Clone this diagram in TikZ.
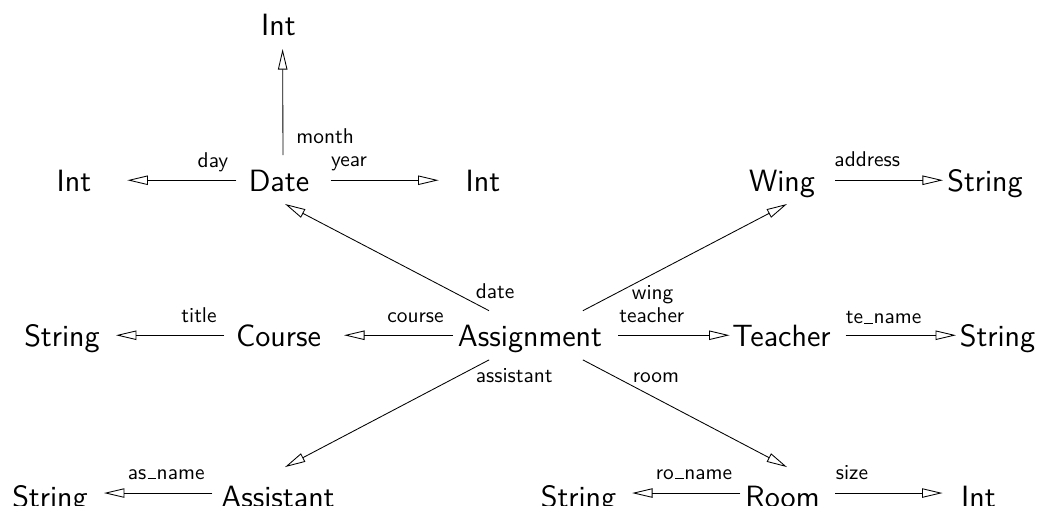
\documentclass[tikz,border=0pt]{standalone}
\usetikzlibrary{arrows.meta,calc}
% underscore drawn as a rule on the baseline
\newcommand\usc{\leavevmode\kern.06em\vbox{\hrule width.4em}\kern.03em}
\begin{document}
\begin{tikzpicture}[x=0.468pt,y=-0.468pt,
  obj/.style={font=\sffamily\Large, inner sep=0pt, outer sep=0pt,
              text height=11pt, text depth=0pt, anchor=base},
  lowobj/.style={obj, text height=14pt},
  lab/.style={font=\sffamily, inner sep=0pt, anchor=base west},
  arr/.style={-{Triangle[open,length=9.6pt,width=4.4pt]}},
]
\useasboundingbox (0,0) rectangle (1039,506);

% objects
\node[obj] (itop)      at (278.5,36)  {Int};
\node[obj] (iday)      at (74,192)    {Int};
\node[obj] (date)      at (279,192)   {Date};
\node[obj] (iyear)     at (483,192)   {Int};
\node[obj] (wing)      at (782,192)   {Wing};
\node[obj] (saddr)     at (985,192)   {String};
\node[obj] (stitle)    at (62,347)    {String};
\node[obj] (course)    at (278.5,347) {Course};
\node[obj] (asg)       at (530,347)   {Assignment};
\node[obj] (teacher)   at (781.5,347) {Teacher};
\node[obj] (stename)   at (997.5,347) {String};
\node[lowobj] (sasname)   at (50,508)    {String};
\node[lowobj] (assistant) at (278,508)   {Assistant};
\node[lowobj] (sroname)   at (578.5,508) {String};
\node[lowobj] (room)      at (782.5,508) {Room};
\node[lowobj] (isize)     at (978.5,508) {Int};

% attributes of Date
\draw[arr, shorten <=6.3pt, shorten >=6.1pt]
  ([xshift=1.9pt]date.north) -- ([xshift=1.9pt]itop.south)
  node[lab, pos=0, shift={(13,-24.5)}] {month};
\draw[arr, shorten <=5.8pt, shorten >=16.9pt] (date) -- (iday)
  node[lab, pos=0, shift={(-51.5,-12.25)}] {day};
\draw[arr, shorten <=10pt, shorten >=12.7pt] (date) -- (iyear)
  node[lab, pos=0, shift={(21.45,-13.25)}] {year};

% attribute of Wing
\draw[arr, shorten <=9.4pt, shorten >=2pt] (wing) -- (saddr)
  node[lab, pos=0, shift={(19.1,-13.25)}] {address};

% attribute of Course
\draw[arr, shorten <=5.6pt, shorten >=7.6pt] (course) -- (stitle)
  node[lab, pos=0, shift={(-55,-12.25)}] {title};

% attributes of Assignment
\draw[arr, shorten <=2.3pt, shorten >=10.8pt] (asg) -- (course)
  node[lab, pos=0, shift={(-71,-12.25)}] {course};
\draw[arr, shorten <=7.5pt, shorten >=1.3pt] (asg) -- (teacher)
  node[lab, pos=0, shift={(17,-12.25)}] {teacher};
\draw[arr, shorten <=24.8pt] ([xshift=2.8pt]asg.center) -- ($(date.south)+(6,12)$)
  node[lab, pos=0, shift={(-60.5,-36.25)}] {date};
\draw[arr, shorten <=24.8pt] ([xshift=2.8pt]asg.center) -- ($(wing.south)+(5,12)$)
  node[lab, pos=0, shift={(95.5,-35.25)}] {wing};
\draw[arr, shorten <=24.8pt] ([xshift=2.8pt]asg.center) -- ($(assistant.north)+(7,-11)$)
  node[lab, pos=0, shift={(-60.5,47.75)}] {assistant};
\draw[arr, shorten <=24.8pt] ([xshift=2.8pt]asg.center) -- ($(room.north)+(4.5,-11)$)
  node[lab, pos=0, shift={(96.5,47.75)}] {room};

% attribute of Teacher
\draw[arr, shorten <=6.95pt, shorten >=1.75pt] (teacher) -- (stename)
  node[lab, pos=0, shift={(14.85,-11.25)}] {te\usc name};

% attribute of Assistant
\draw[arr, shorten <=4.2pt, shorten >=7.6pt] (assistant) -- (sasname)
  node[lab, pos=0, shift={(-94,-14)}] {as\usc name};

% attributes of Room
\draw[arr, shorten <=2.3pt, shorten >=7.4pt] (room) -- (sroname)
  node[lab, pos=0, shift={(-89.9,-14)}] {ro\usc name};
\draw[arr, shorten <=7.4pt, shorten >=8.75pt] (room) -- (isize)
  node[lab, pos=0, shift={(15.9,-14)}] {size};
\end{tikzpicture}
\end{document}
